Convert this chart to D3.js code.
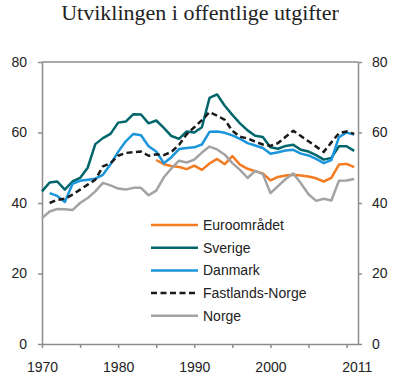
<!DOCTYPE html>
<html lang="no">
<head>
  <meta charset="UTF-8">
  <title>Utviklingen i offentlige utgifter</title>
  <script src="https://d3js.org/d3.v7.min.js"></script>
  <style>
    body {
      margin: 0;
      background: #fff;
    }

    svg {
      display: block;
    }

    .title {
      font-family: "Liberation Serif", "Times New Roman", serif;
      font-size: 22px;
      fill: #222;
    }

    .axis text, .legend text {
      font-family: "Liberation Sans", Arial, sans-serif;
      font-size: 14px;
      fill: #222;
    }

    .axis path, .axis line, .frame {
      stroke: #8c8c8c;
      stroke-width: 1.5px;
    }

    .line {
      fill: none;
      stroke-width: 2.5px;
      stroke-linejoin: round;
    }
  </style>
</head>
<body>
  <svg width="400" height="388"></svg>

  <script>
    // years 1970..2011, null = no data
    const years = d3.range(1970, 2012);

    const euro = [
      null, null, null, null, null, null, null, null, null, null,
      null, null, null, null, null,
      52.2, 51.0, 50.5, 50.2, 49.6, 50.6, 49.4, 51.2, 52.5, 51.0,
      53.3, 50.9, 49.7, 49.0, 48.4, 46.4, 47.4, 47.8, 48.0, 47.8,
      47.5, 47.0, 46.1, 47.1, 50.9, 51.1, 50.2
    ];
    const sverige = [
      43.3, 45.8, 46.1, 43.8, 46.1, 47.1, 50.0, 56.7, 58.4, 59.6,
      62.8, 63.1, 65.2, 65.1, 62.6, 63.4, 61.3, 59.0, 58.2, 60.3,
      60.0, 61.5, 69.8, 70.8, 67.6, 65.0, 62.6, 60.6, 59.1, 58.7,
      55.8, 55.4, 56.2, 56.5, 55.1, 54.6, 53.6, 52.3, 52.8, 56.1,
      56.1, 54.8
    ];
    const danmark = [
      null, 42.8, 42.0, 40.3, 45.4, 46.3, 46.6, 46.9, 48.0, 51.0,
      54.5, 57.5, 59.6, 59.2, 56.1, 54.6, 51.3, 53.0, 55.3, 55.6,
      55.8, 56.6, 60.2, 60.3, 59.9, 59.2, 58.2, 57.0, 56.3, 55.6,
      54.0, 54.4, 54.9, 55.1, 54.0, 53.5, 52.5, 51.3, 52.2, 58.7,
      60.0, 59.4
    ];
    const fastland = [
      null, 40.0, 40.9, 41.2, 42.4, 43.8, 45.2, 46.6, 50.4, 51.3,
      53.4, 54.2, 54.4, 54.6, 53.4, 53.8, 53.6, 54.5, 56.5, 59.5,
      61.5, 63.5, 65.8, 64.8, 63.6, 60.5, 58.8, 58.3, 57.4, 56.6,
      56.2, 57.0, 58.8, 60.5, 59.0, 57.5, 56.0, 54.5, 57.2, 59.8,
      60.3, 59.6
    ];
    const norge = [
      35.7, 37.6, 38.3, 38.2, 38.0, 40.0, 41.4, 43.3, 45.7, 45.0,
      44.1, 43.8, 44.3, 44.3, 42.2, 43.5, 47.3, 49.8, 52.0, 51.5,
      52.3, 54.3, 56.0, 55.2, 53.7, 51.3, 49.4, 47.1, 49.1, 48.2,
      42.8, 44.8, 46.8, 48.4, 45.6, 42.5, 40.6, 41.2, 40.7, 46.3,
      46.4, 46.8
    ];

    const seriesNames = ["Euroområdet", "Sverige", "Danmark", "Fastlands-Norge", "Norge"];
    const seriesValues = [euro, sverige, danmark, fastland, norge];
    const seriesColors = ["#f47b20", "#00666b", "#1b95db", "#1a1a1a", "#a3a3a3"];
    const seriesDash = [null, null, null, "6,3.5", null];

    const yTicks = [0, 20, 40, 60, 80];
    const xTicks = d3.range(1970, 2011, 5);
    const xLabels = [1970, 1980, 1990, 2000];
    const lastLabel = "2011";

    const plot = {left: 42, right: 358, top: 62, bottom: 344};

    const svg = d3.select("svg");

    const x = d3.scaleLinear().domain([1970, 2011.5]).range([plot.left, plot.right]);
    const y = d3.scaleLinear().domain([0, 80]).range([plot.bottom, plot.top]);

    svg.append("text")
      .attr("class", "title")
      .attr("x", 200)
      .attr("y", 20)
      .attr("text-anchor", "middle")
      .text("Utviklingen i offentlige utgifter");

    // top border of the plot
    svg.append("line")
      .attr("class", "frame")
      .attr("x1", plot.left).attr("x2", plot.right)
      .attr("y1", plot.top).attr("y2", plot.top);

    svg.append("g")
      .attr("class", "axis")
      .attr("transform", `translate(${plot.left},0)`)
      .call(d3.axisLeft(y).tickValues(yTicks).tickSize(4).tickPadding(11).tickSizeOuter(0));

    svg.append("g")
      .attr("class", "axis")
      .attr("transform", `translate(${plot.right},0)`)
      .call(d3.axisRight(y).tickValues(yTicks).tickSize(4).tickPadding(10).tickSizeOuter(0));

    const xAxis = svg.append("g")
      .attr("class", "axis")
      .attr("transform", `translate(0,${plot.bottom})`)
      .call(d3.axisBottom(x).tickValues(xTicks).tickSize(4).tickPadding(14).tickSizeOuter(0)
        .tickFormat(d => xLabels.includes(d) ? d : ""));

    xAxis.append("text")
      .attr("x", x(2011.4))
      .attr("y", 18)
      .attr("dy", "0.71em")
      .attr("text-anchor", "middle")
      .text(lastLabel);

    const line = d3.line()
      .defined(d => d.v != null)
      .x(d => x(d.year))
      .y(d => y(d.v));

    seriesValues.forEach((vals, i) => {
      const data = years.map((yr, j) => ({year: yr, v: vals[j]}));
      svg.append("path")
        .datum(data)
        .attr("class", "line")
        .attr("stroke", seriesColors[i])
        .attr("stroke-dasharray", seriesDash[i])
        .attr("d", line);
    });

    // legend
    const legend = svg.append("g").attr("class", "legend");
    seriesNames.forEach((name, i) => {
      const ly = 225 + i * 22.7;
      legend.append("line")
        .attr("x1", 151).attr("x2", 198)
        .attr("y1", ly).attr("y2", ly)
        .attr("stroke", seriesColors[i])
        .attr("stroke-width", 2.5)
        .attr("stroke-dasharray", seriesDash[i]);
      legend.append("text")
        .attr("x", 203)
        .attr("y", ly)
        .attr("dy", "0.35em")
        .text(name);
    });
  </script>
</body>
</html>
